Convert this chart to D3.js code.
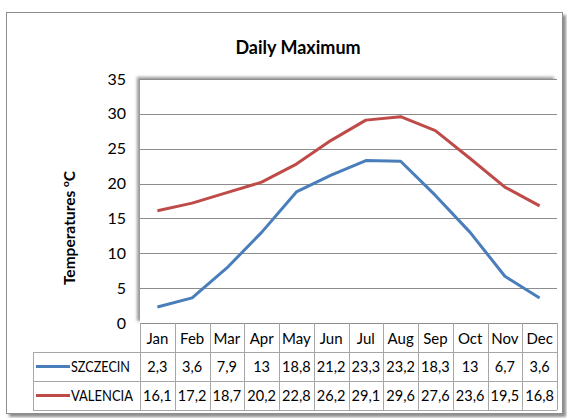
<!DOCTYPE html>
<html>
<head>
<meta charset="utf-8">
<script src="https://cdn.jsdelivr.net/npm/d3@7"></script>
<style>
  html, body { margin: 0; padding: 0; background: #fff; }
  svg { display: block; }
</style>
</head>
<body>
<svg id="chart" width="567" height="418"></svg>
<script>
// Monthly average daily maximum temperatures (°C)
const months = ["Jan", "Feb", "Mar", "Apr", "May", "Jun", "Jul", "Aug", "Sep", "Oct", "Nov", "Dec"];
const szczecin = [2.3, 3.6, 7.9, 13, 18.8, 21.2, 23.3, 23.2, 18.3, 13, 6.7, 3.6];
const valencia = [16.1, 17.2, 18.7, 20.2, 22.8, 26.2, 29.1, 29.6, 27.6, 23.6, 19.5, 16.8];
const yTicks = [0, 5, 10, 15, 20, 25, 30, 35];

const seriesList = [
  { name: "SZCZECIN", values: szczecin, color: "#4a7ebb" },
  { name: "VALENCIA", values: valencia, color: "#be4b48" }
];

const FONT = "Lato, 'Open Sans', sans-serif";
const svg = d3.select("#chart");

const defs = svg.append("defs");
const plotShadow = defs.append("filter").attr("id", "plotShadow")
  .attr("x", "-5%").attr("y", "-5%").attr("width", "110%").attr("height", "110%");
plotShadow.append("feDropShadow").attr("dx", -3).attr("dy", -2)
  .attr("stdDeviation", 1.6).attr("flood-color", "#000").attr("flood-opacity", 0.4);
const frameShadow = defs.append("filter").attr("id", "frameShadow")
  .attr("x", "-5%").attr("y", "-5%").attr("width", "110%").attr("height", "110%");
frameShadow.append("feDropShadow").attr("dx", 3).attr("dy", 3)
  .attr("stdDeviation", 1.5).attr("flood-color", "#000").attr("flood-opacity", 0.45);

// Outer chart frame
svg.append("rect")
  .attr("x", 6.5).attr("y", 12.5).attr("width", 556).attr("height", 401)
  .attr("fill", "#fff").attr("stroke", "#8c8c8c").attr("stroke-width", 1)
  .attr("filter", "url(#frameShadow)");

const plot = { left: 140, right: 557, top: 79, bottom: 323 };

const x = d3.scaleBand().domain(months).range([plot.left, plot.right]);
const y = d3.scaleLinear().domain([0, 35]).range([plot.bottom, plot.top]);

// Plot area background
svg.append("rect")
  .attr("x", plot.left).attr("y", plot.top)
  .attr("width", plot.right - plot.left).attr("height", plot.bottom - plot.top)
  .attr("fill", "#fff").attr("filter", "url(#plotShadow)");

// Horizontal gridlines
svg.append("g").selectAll("line").data(yTicks.filter(d => d > 0)).join("line")
  .attr("x1", plot.left).attr("x2", plot.right)
  .attr("y1", d => Math.round(y(d)) + 0.5).attr("y2", d => Math.round(y(d)) + 0.5)
  .attr("stroke", "#8c8c8c").attr("stroke-width", 1);

// Y axis labels
const yAxis = d3.axisLeft(y).tickValues(yTicks).tickSize(0).tickPadding(14);
const yg = svg.append("g").attr("transform", `translate(${plot.left},0)`).call(yAxis);
yg.select(".domain").remove();
yg.selectAll("text").attr("font-family", FONT).attr("font-size", 16).attr("fill", "#000");

// Data table below the plot
const tableLeft = 33;
const rowTops = [plot.bottom, 352, 381, 410];
const tg = svg.append("g");
const gridStroke = "#a6a6a6";

// horizontal table rules
tg.append("line").attr("x1", plot.left).attr("x2", plot.right)
  .attr("y1", plot.bottom + 0.5).attr("y2", plot.bottom + 0.5)
  .attr("stroke", "#8c8c8c");
[rowTops[1], rowTops[2], rowTops[3]].forEach(yy => {
  tg.append("line").attr("x1", tableLeft).attr("x2", plot.right)
    .attr("y1", yy + 0.5).attr("y2", yy + 0.5).attr("stroke", gridStroke);
});
// vertical rules
months.forEach(m => {
  tg.append("line").attr("x1", Math.round(x(m)) + 0.5).attr("x2", Math.round(x(m)) + 0.5)
    .attr("y1", plot.bottom).attr("y2", rowTops[3]).attr("stroke", gridStroke);
});
tg.append("line").attr("x1", plot.right + 0.5).attr("x2", plot.right + 0.5)
  .attr("y1", plot.bottom).attr("y2", rowTops[3]).attr("stroke", gridStroke);
tg.append("line").attr("x1", tableLeft + 0.5).attr("x2", tableLeft + 0.5)
  .attr("y1", rowTops[1]).attr("y2", rowTops[3]).attr("stroke", gridStroke);

// month header
tg.selectAll("text.month").data(months).join("text")
  .attr("class", "month")
  .attr("x", d => x(d) + x.bandwidth() / 2)
  .attr("y", (rowTops[0] + rowTops[1]) / 2 + 1)
  .attr("dy", "0.35em").attr("text-anchor", "middle")
  .attr("font-family", FONT).attr("font-size", 15).attr("fill", "#000")
  .text(d => d);

const fmt = v => String(v).replace(".", ",");
seriesList.forEach((s, i) => {
  const cy = (rowTops[i + 1] + rowTops[i + 2]) / 2;
  tg.append("line").attr("x1", 36).attr("x2", 70).attr("y1", cy).attr("y2", cy)
    .attr("stroke", s.color).attr("stroke-width", 3);
  tg.append("text").attr("x", 71).attr("y", cy).attr("dy", "0.35em")
    .attr("font-family", FONT).attr("font-size", 15).attr("fill", "#000")
    .attr("textLength", i === 0 ? 59 : 62).attr("lengthAdjust", "spacingAndGlyphs")
    .text(s.name);
  tg.selectAll(null).data(s.values).join("text")
    .attr("x", (d, j) => x(months[j]) + x.bandwidth() / 2)
    .attr("y", cy).attr("dy", "0.35em").attr("text-anchor", "middle")
    .attr("font-family", FONT).attr("font-size", 14.5).attr("fill", "#000")
    .text(fmt);
});

// Series lines
const line = d3.line()
  .x((d, j) => x(months[j]) + x.bandwidth() / 2)
  .y(d => y(d));
seriesList.forEach(s => {
  svg.append("path").datum(s.values)
    .attr("d", line).attr("fill", "none")
    .attr("stroke", s.color).attr("stroke-width", 3)
    .attr("stroke-linejoin", "round");
});

// Title
svg.append("text").attr("x", 298).attr("y", 54).attr("text-anchor", "middle")
  .attr("font-family", FONT).attr("font-size", 18).attr("font-weight", "bold")
  .attr("fill", "#000").text("Daily Maximum");

// Y axis title
const yt = svg.append("text")
  .attr("transform", `translate(75, 228) rotate(-90)`)
  .attr("text-anchor", "middle")
  .attr("font-family", FONT).attr("font-size", 15.5).attr("font-weight", "bold")
  .attr("fill", "#000");
yt.append("tspan").text("Temperatures  ");
yt.append("tspan").attr("font-size", 10).attr("dy", -6).text("o");
yt.append("tspan").attr("dy", 6).text("C");
</script>
</body>
</html>
